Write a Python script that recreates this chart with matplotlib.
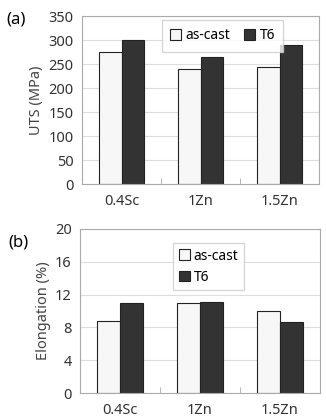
import numpy as np
import matplotlib.pyplot as plt

# data
alloys = ['0.4Sc', '1Zn', '1.5Zn']
uts_ascast = [275, 240, 243]
uts_t6 = [300, 265, 290]
elong_ascast = [8.8, 11.0, 10.0]
elong_t6 = [11.0, 11.1, 8.7]

plt.rcParams['font.family'] = ['Noto Sans', 'DejaVu Sans']
plt.rcParams['font.size'] = 10.5

W, H = 326, 419
fig = plt.figure(figsize=(W/100, H/100), dpi=100)

def ax_rect(l, t, r, b):
    return [l/W, 1 - b/H, (r-l)/W, (b-t)/H]

light = '#f7f7f7'
dark = '#333333'
edge = '#222222'
bw = 0.285

def barpanel(ax, a, t6, ymax, step, ylab):
    x = np.arange(len(alloys))
    ax.set_axisbelow(True)
    ax.yaxis.grid(True, color='#dddddd', lw=0.8)
    b1 = ax.bar(x - bw/2, a, bw, color=light, edgecolor=edge, lw=0.8, label='as-cast')
    b2 = ax.bar(x + bw/2, t6, bw, color=dark, edgecolor=edge, lw=0.8, label='T6')
    ax.set_xlim(-0.5, 2.5)
    ax.set_ylim(0, ymax)
    ax.set_yticks(np.arange(0, ymax + step/2, step))
    ax.set_xticks(x)
    ax.set_xticklabels(alloys)
    ax.set_xticks([0.5, 1.5], minor=True)
    ax.tick_params(axis='x', which='major', length=0, pad=7, colors='#333333')
    ax.tick_params(axis='x', which='minor', length=4, direction='in', color='#aaaaaa')
    ax.tick_params(axis='y', length=0, pad=6, colors='#333333')
    for s in ax.spines.values():
        s.set_color('#aaaaaa')
        s.set_linewidth(0.8)
    ax.set_ylabel(ylab, color='#444444', labelpad=3)
    return b1, b2

ax1 = fig.add_axes(ax_rect(82, 16, 319, 184))
barpanel(ax1, uts_ascast, uts_t6, 350, 50, 'UTS (MPa)')
ax1.legend(loc='upper left', bbox_to_anchor=((162-82)/237, 1 - 4/168), ncol=2,
           fontsize=10, frameon=True, fancybox=False, edgecolor='#cccccc',
           handlelength=0.8, handleheight=0.8, handletextpad=0.3,
           columnspacing=1.0, borderpad=0.6, borderaxespad=0)
fig.text(6/W, 1 - 20/H, '(a)', fontsize=12, va='center')

ax2 = fig.add_axes(ax_rect(80, 229, 320, 393))
barpanel(ax2, elong_ascast, elong_t6, 20, 4, 'Elongation (%)')
ax2.legend(loc='upper left', bbox_to_anchor=((173-80)/240, 1 - 14/164), ncol=1,
           fontsize=10, frameon=True, fancybox=False, edgecolor='#cccccc',
           handlelength=0.8, handleheight=0.8, handletextpad=0.3,
           borderpad=0.4, labelspacing=0.45, borderaxespad=0)
fig.text(8/W, 1 - 242/H, '(b)', fontsize=12, va='center')

fig.savefig('out.png', dpi=100)
